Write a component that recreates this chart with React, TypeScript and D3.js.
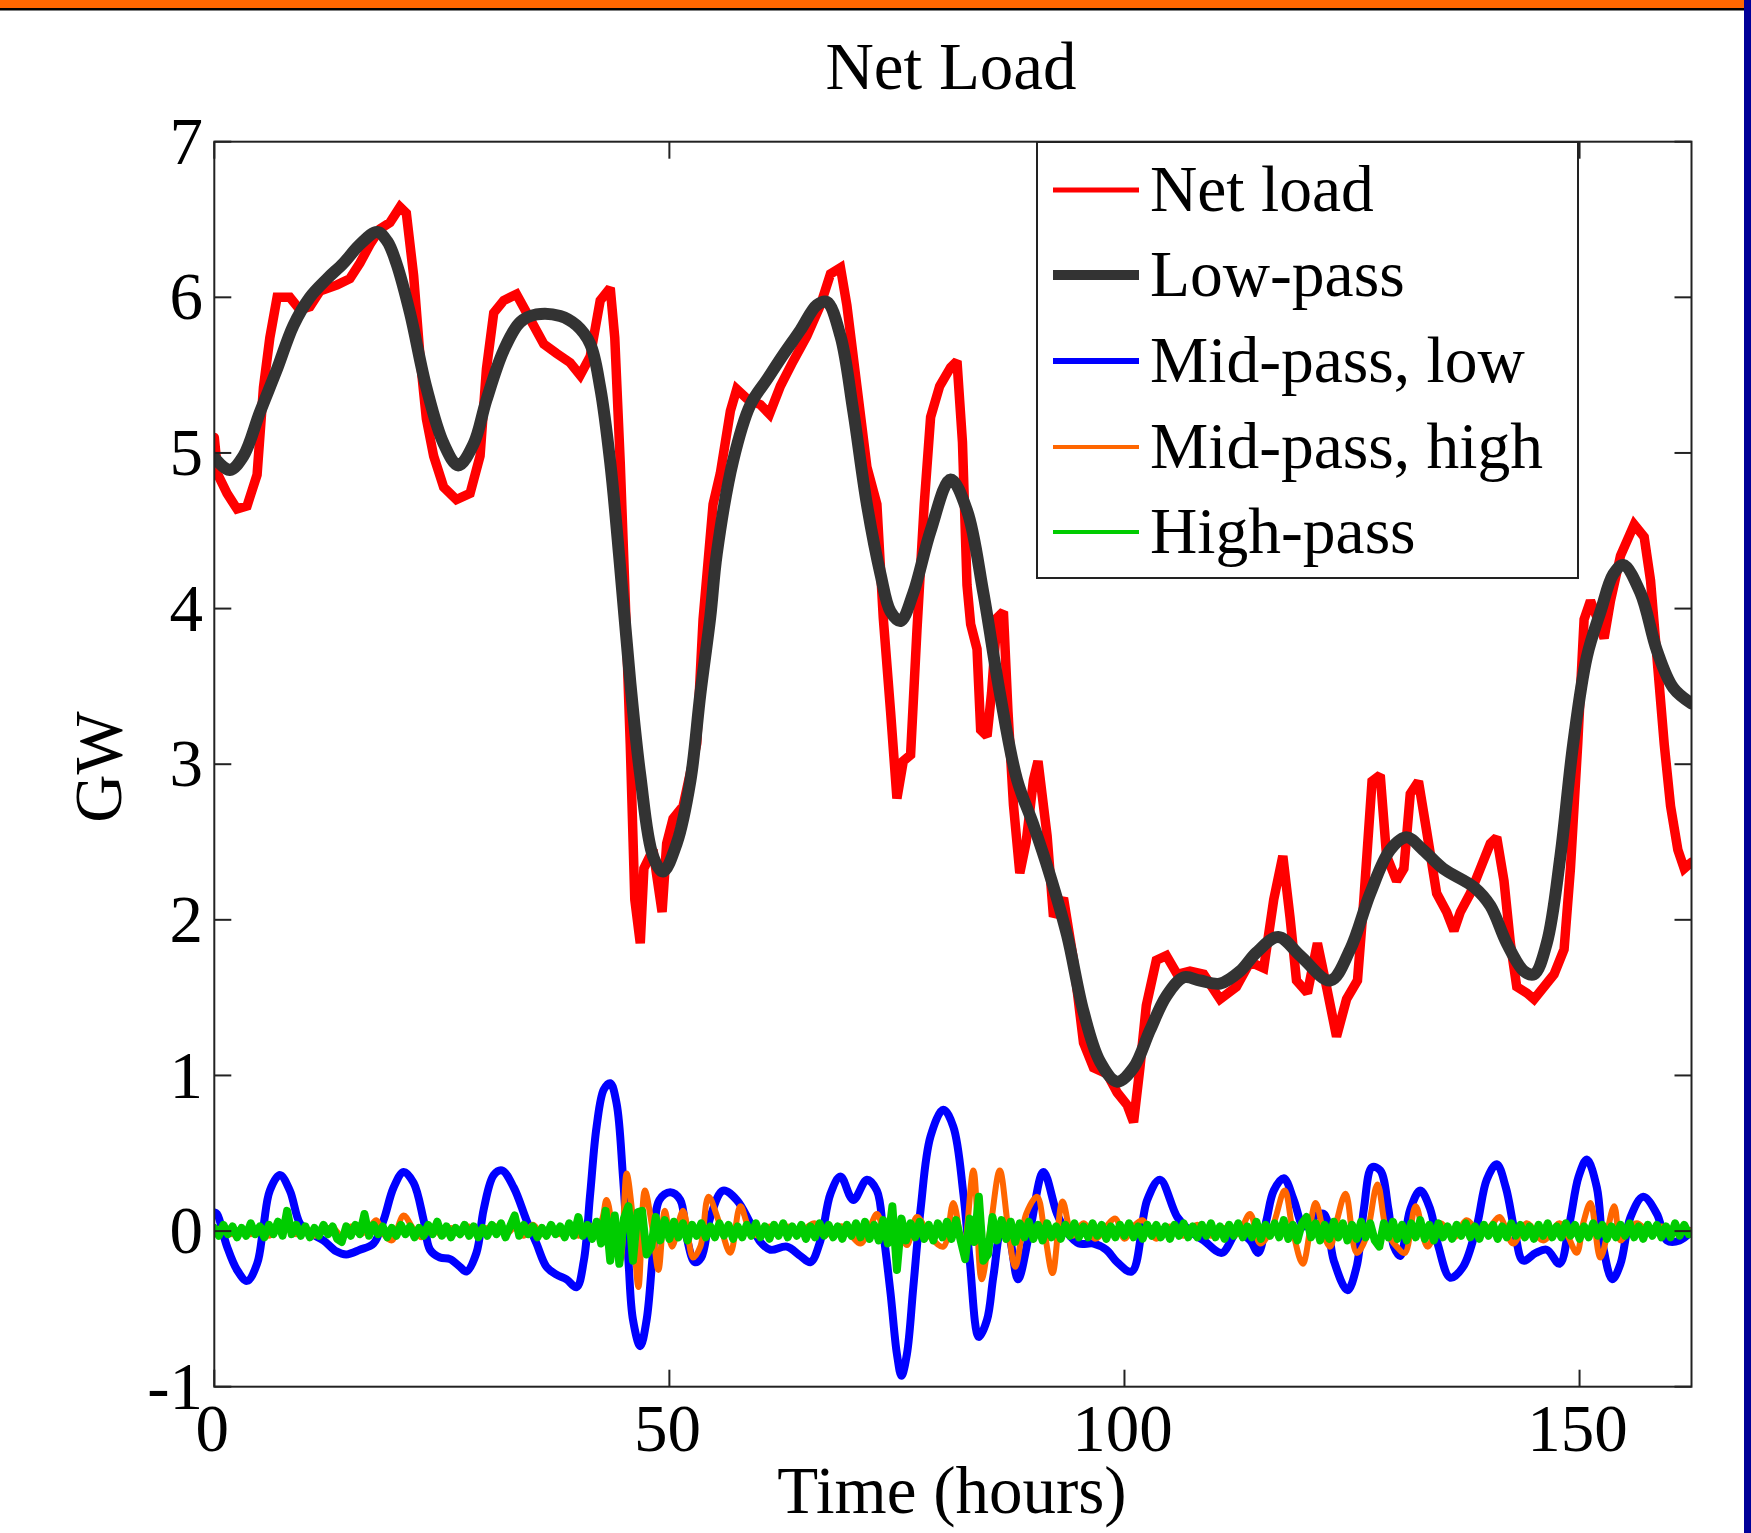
import React from "react";
import * as d3 from "d3";

const W = 1751;
const H = 1533;

const title = "Net Load";
const xLabel = "Time (hours)";
const yLabel = "GW";
const xTicks = [0, 50, 100, 150];
const yTicks = [-1, 0, 1, 2, 3, 4, 5, 6, 7];
const legendLabels = ["Net load", "Low-pass", "Mid-pass, low", "Mid-pass, high", "High-pass"];
const seriesColors = ["#ff0000", "#333333", "#0000ff", "#ff6600", "#00cc00"];

// [hour, GW]
const netLoad: [number, number][] = [
  [0, 5.1], [0.4, 4.86], [1.4, 4.74], [2.5, 4.64], [3.6, 4.66], [4.7, 4.86], [5.4, 5.42], [6.1, 5.74], [6.9, 6.0],
  [8.3, 6.0], [9.4, 5.92], [10.5, 5.94], [11.6, 6.04], [13.5, 6.08], [14.9, 6.12], [16.0, 6.22], [17.1, 6.34],
  [18.2, 6.44], [19.3, 6.48], [20.4, 6.58], [21.1, 6.54], [21.9, 6.14], [22.6, 5.62], [23.3, 5.22], [24.1, 4.98],
  [25.2, 4.78], [26.6, 4.7], [28.1, 4.74], [29.2, 4.98], [29.9, 5.54], [30.7, 5.9], [31.8, 5.98], [33.2, 6.02],
  [34.7, 5.86], [36.2, 5.7], [37.6, 5.64], [39.1, 5.58], [40.2, 5.5], [41.3, 5.62], [42.4, 5.98], [43.5, 6.06],
  [44.0, 5.74], [44.6, 4.94], [45.1, 4.14], [45.7, 3.13], [46.2, 2.13], [46.8, 1.85], [47.2, 2.33], [48.2, 2.45],
  [49.2, 2.05], [49.7, 2.49], [50.4, 2.65], [51.5, 2.73], [53.0, 3.13], [53.7, 3.93], [54.8, 4.67], [55.6, 4.87],
  [56.7, 5.27], [57.4, 5.41], [58.5, 5.35], [60.0, 5.31], [61.0, 5.25], [62.2, 5.43], [63.6, 5.59], [65.1, 5.75],
  [66.6, 5.95], [67.7, 6.15], [68.8, 6.19], [69.5, 5.95], [70.6, 5.43], [71.7, 4.91], [72.8, 4.67], [73.5, 3.94],
  [74.3, 3.34], [75.0, 2.78], [75.7, 3.02], [76.5, 3.06], [77.2, 3.86], [78.0, 4.67], [78.7, 5.23], [79.7, 5.43],
  [80.9, 5.55], [81.6, 5.59], [82.2, 5.07], [82.7, 4.15], [83.1, 3.9], [83.8, 3.74], [84.2, 3.22], [84.9, 3.18],
  [85.4, 3.46], [86.0, 3.94], [86.7, 3.98], [87.2, 3.34], [87.8, 2.74], [88.5, 2.3], [89.2, 2.5], [90.0, 2.9],
  [90.5, 3.02], [91.5, 2.54], [92.2, 2.02], [93.3, 2.14], [94.4, 1.74], [95.5, 1.21], [96.6, 1.05], [98.1, 1.01],
  [99.2, 0.89], [100.3, 0.81], [101.0, 0.7], [101.7, 1.05], [102.4, 1.45], [103.5, 1.74], [104.6, 1.77],
  [105.8, 1.65], [107.2, 1.67], [108.7, 1.65], [110.5, 1.49], [112.3, 1.57], [113.8, 1.73], [115.3, 1.69],
  [116.4, 2.13], [117.4, 2.41], [118.2, 2.01], [118.9, 1.61], [120.1, 1.53], [121.2, 1.85], [122.2, 1.57],
  [123.3, 1.25], [124.4, 1.49], [125.6, 1.61], [126.3, 2.13], [127.2, 2.89], [128.1, 2.93], [128.8, 2.41],
  [129.9, 2.25], [130.7, 2.33], [131.4, 2.81], [132.3, 2.89], [133.2, 2.57], [134.3, 2.17], [135.4, 2.05],
  [136.2, 1.93], [136.9, 2.05], [138.0, 2.17], [139.1, 2.33], [140.2, 2.49], [140.9, 2.53], [141.7, 2.25],
  [142.4, 1.85], [143.1, 1.57], [144.2, 1.53], [145.0, 1.49], [146.1, 1.57], [147.2, 1.65], [148.3, 1.81],
  [149.0, 2.33], [149.8, 3.13], [150.5, 3.93], [151.2, 4.05], [152.0, 3.93], [152.7, 3.81], [153.4, 4.05],
  [154.5, 4.34], [156.0, 4.54], [157.1, 4.46], [157.8, 4.18], [158.5, 3.69], [159.3, 3.13], [160.0, 2.73],
  [160.8, 2.45], [161.5, 2.33], [162.3, 2.37],
];

const lowPass: [number, number][] = [
  [0, 4.97], [1.7, 4.89], [3.2, 4.98], [5.0, 5.26], [6.9, 5.54], [8.7, 5.82], [10.5, 6.0], [12.4, 6.12], [14.2, 6.22],
  [16.0, 6.34], [17.9, 6.42], [19.0, 6.36], [20.0, 6.22], [21.5, 5.9], [23.3, 5.42], [25.2, 5.06], [26.8, 4.92],
  [28.5, 5.06], [29.9, 5.34], [31.8, 5.66], [33.6, 5.84], [35.4, 5.89], [38.0, 5.88], [39.8, 5.82], [41.3, 5.7],
  [42.4, 5.42], [43.5, 4.94], [44.6, 4.26], [45.7, 3.53], [46.8, 2.93], [48.2, 2.41], [49.3, 2.31], [50.8, 2.49],
  [52.3, 2.89], [53.4, 3.45], [54.5, 3.95], [55.2, 4.35], [57.0, 4.95], [58.9, 5.31], [60.7, 5.47], [62.5, 5.63],
  [64.4, 5.79], [66.2, 5.95], [67.3, 5.97], [68.8, 5.75], [70.2, 5.27], [71.7, 4.67], [73.2, 4.22], [74.3, 3.98],
  [75.4, 3.92], [76.8, 4.1], [78.7, 4.5], [80.9, 4.83], [82.7, 4.63], [84.5, 4.1], [86.3, 3.46], [88.2, 2.9],
  [90.0, 2.61], [91.8, 2.29], [93.7, 1.9], [95.5, 1.41], [97.3, 1.09], [99.2, 0.96], [101.0, 1.05], [102.8, 1.29],
  [104.6, 1.51], [106.5, 1.63], [108.3, 1.61], [110.5, 1.59], [112.7, 1.67], [114.5, 1.79], [116.9, 1.89],
  [119.3, 1.77], [122.6, 1.61], [124.8, 1.81], [127.0, 2.17], [129.2, 2.45], [131.0, 2.53], [132.8, 2.45],
  [135.0, 2.33], [138.4, 2.21], [140.2, 2.09], [142.0, 1.85], [143.9, 1.67], [145.0, 1.65], [146.4, 1.85],
  [147.9, 2.41], [149.3, 3.13], [150.8, 3.69], [152.3, 3.98], [153.7, 4.22], [154.8, 4.28], [156.7, 4.1],
  [158.5, 3.73], [160.3, 3.49], [162.3, 3.39],
];

const midLow: [number, number][] = [
  [0, 0.12], [0.3, 0.11], [1.4, -0.1], [2.5, -0.25], [3.6, -0.32], [4.7, -0.21], [5.4, 0.03], [6.1, 0.26], [7.2, 0.36],
  [8.3, 0.26], [9.4, 0.05], [10.5, -0.01], [12.0, -0.06], [13.4, -0.13], [14.5, -0.15], [16.0, -0.12], [17.5, -0.08],
  [18.6, 0.07], [19.7, 0.28], [20.8, 0.38], [21.9, 0.31], [23.0, 0.07], [23.7, -0.12], [24.8, -0.17], [25.9, -0.18],
  [27.0, -0.23], [27.7, -0.26], [28.8, -0.14], [29.6, 0.14], [30.7, 0.36], [31.6, 0.39], [32.9, 0.28], [34.3, 0.07],
  [35.4, -0.08], [36.5, -0.23], [37.6, -0.28], [38.7, -0.31], [39.8, -0.36], [40.6, -0.19], [41.3, 0.24], [42.0, 0.67],
  [42.8, 0.91], [43.5, 0.95], [44.2, 0.82], [44.9, 0.35], [45.5, -0.19], [46.0, -0.57], [46.8, -0.74], [47.5, -0.57],
  [48.2, -0.14], [48.9, 0.2], [50.1, 0.25], [51.2, 0.2], [51.9, -0.04], [52.8, -0.2], [53.5, -0.17], [54.5, 0.09],
  [55.9, 0.26], [57.4, 0.2], [58.9, 0.05], [60.0, -0.07], [61.1, -0.12], [62.9, -0.1], [64.4, -0.16], [65.5, -0.2],
  [66.6, -0.06], [67.7, 0.24], [68.8, 0.35], [70.2, 0.2], [71.7, 0.33], [72.8, 0.26], [73.5, -0.01], [74.3, -0.4],
  [75.0, -0.79], [75.5, -0.93], [76.1, -0.79], [76.8, -0.36], [77.6, 0.14], [78.7, 0.61], [80.1, 0.78], [81.2, 0.67],
  [82.3, 0.24], [83.0, -0.19], [84.0, -0.68], [84.9, -0.57], [85.6, -0.29], [86.6, 0.05], [87.4, -0.05], [88.3, -0.31],
  [89.6, 0.0], [91.1, 0.38], [92.6, 0.11], [93.7, -0.01], [95.0, -0.08], [96.6, -0.08], [98.0, -0.12], [99.2, -0.2],
  [100.8, -0.26], [102.5, 0.2], [103.9, 0.33], [105.8, 0.09], [107.2, 0.0], [108.7, -0.06], [110.7, -0.14],
  [112.4, -0.01], [113.8, -0.06], [114.7, -0.14], [115.6, 0.07], [116.4, 0.26], [117.5, 0.34], [118.6, 0.2],
  [119.7, 0.03], [120.8, 0.09], [121.9, 0.11], [123.0, -0.19], [124.5, -0.38], [125.5, -0.23], [126.3, 0.14],
  [127.2, 0.41], [128.1, 0.39], [129.0, 0.14], [129.6, -0.1], [130.3, -0.16], [131.4, 0.14], [132.5, 0.26],
  [133.6, 0.14], [134.5, -0.1], [135.8, -0.3], [137.2, -0.23], [138.7, 0.03], [139.8, 0.33], [140.9, 0.43],
  [141.9, 0.28], [142.9, -0.01], [143.8, -0.19], [145.2, -0.14], [146.4, -0.12], [147.8, -0.21], [148.9, 0.05],
  [149.9, 0.35], [150.8, 0.46], [151.9, 0.28], [152.6, -0.1], [153.6, -0.31], [154.5, -0.21], [155.6, 0.09],
  [157.0, 0.22], [158.5, 0.11], [159.6, -0.06], [161.0, -0.06], [162.3, 0.0],
];

const midHigh: [number, number][] = [
  [0, 0.0], [1, 0.02], [2, -0.02], [3, 0.01], [4, -0.02], [5, 0.03], [6, -0.03], [7, 0.02], [8, 0.04], [9, -0.02],
  [10, 0.02], [11, -0.03], [12, 0.01], [13, 0.02], [14, -0.03], [15, 0.03], [16, -0.02], [17, 0.02], [17.8, 0.07],
  [18.6, -0.02], [19.5, -0.06], [20.8, 0.1], [21.8, 0.02], [22.8, -0.04], [24, 0.03], [25, -0.03], [26, 0.02],
  [27, -0.02], [28, 0.03], [29, -0.03], [30, 0.02], [31, 0.03], [32, -0.02], [33, 0.02], [34, -0.03], [35, 0.04],
  [36, -0.02], [37, 0.02], [38, -0.02], [39, 0.03], [40, -0.03], [41, 0.02], [42.4, 0.05], [43.1, 0.2], [43.9, -0.04],
  [44.6, -0.19], [45.3, 0.37], [45.9, 0.13], [46.6, -0.36], [47.3, 0.26], [48.1, 0.03], [48.8, -0.25], [49.5, 0.13],
  [50.3, -0.1], [51.5, 0.13], [52.6, -0.17], [53.4, -0.1], [54.3, 0.22], [55.5, 0.05], [56.7, -0.14], [57.8, 0.16],
  [58.9, 0.0], [60, -0.03], [61, 0.03], [62, -0.02], [63, 0.03], [64, -0.02], [65, 0.02], [66, 0.05], [67, -0.03],
  [68, 0.01], [69, 0.03], [70, -0.03], [71, -0.08], [72, 0.02], [72.8, 0.11], [73.6, 0.0], [74.3, -0.06], [75.2, 0.02],
  [76.1, -0.09], [77.2, 0.09], [78.7, -0.04], [80.1, -0.1], [81.2, 0.18], [82.3, -0.12], [83.4, 0.39], [84.3, -0.31],
  [85.2, -0.01], [86.3, 0.39], [87.2, 0.03], [88.0, -0.23], [89.2, 0.11], [90.4, 0.22], [91.2, 0.0], [92.1, -0.27],
  [93.2, 0.19], [94.3, -0.03], [95.5, 0.05], [96.8, -0.05], [98, 0.03], [99, 0.08], [100, -0.05], [101, 0.03],
  [102, 0.07], [103.5, -0.05], [105, 0.03], [106.5, -0.03], [108, 0.04], [109.5, -0.03], [111, 0.02], [112.4, -0.02],
  [113.8, 0.11], [114.9, -0.08], [116.2, 0.02], [117.6, 0.26], [118.5, 0.0], [119.6, -0.21], [121.0, 0.18],
  [122.0, -0.04], [122.6, -0.1], [123.3, 0.06], [124.3, 0.24], [125.5, -0.14], [126.5, -0.05], [127.8, 0.3],
  [128.8, 0.0], [129.9, -0.1], [130.8, -0.14], [132.0, 0.16], [133.3, -0.1], [134.7, 0.05], [136.2, -0.04],
  [137.6, 0.07], [139.0, -0.01], [140.2, 0.03], [141.2, 0.09], [142.7, -0.08], [144.2, 0.05], [146.0, -0.06],
  [147.8, 0.05], [148.7, -0.03], [149.7, -0.14], [150.4, 0.05], [151.2, 0.18], [152.3, -0.17], [153.8, 0.16],
  [154.5, -0.06], [155.5, 0.02], [156.3, 0.05], [157.8, -0.01], [159, 0.03], [160.3, -0.02], [161.2, 0.02], [162.3, 0.0],
];

// High-pass component, one value every half hour from t = 0
const highPassStep = 0.5;
const highPass: number[] = [
  0.02, -0.03, 0.04, -0.02, 0.03, -0.04, 0.02, -0.03, 0.05, -0.02, 0.03, -0.04, 0.04, -0.02, 0.06, -0.03, 0.13, -0.02, 0.04, -0.03,
  0.03, -0.04, 0.02, -0.03, 0.04, -0.02, 0.03, -0.05, -0.07, 0.03, -0.03, 0.04, -0.02, 0.11, -0.03, 0.04, -0.02, 0.03, -0.04, 0.02,
  -0.03, 0.04, -0.02, 0.03, -0.04, 0.02, -0.03, 0.04, -0.02, 0.06, -0.03, 0.03, -0.04, 0.02, -0.02, 0.04, -0.03, 0.03, -0.04, 0.02,
  -0.03, 0.04, -0.02, 0.05, -0.04, 0.03, 0.1, -0.03, 0.04, -0.02, 0.03, -0.04, 0.02, -0.03, 0.04, -0.02, 0.03, -0.04, 0.05, -0.03,
  0.09, -0.03, 0.04, -0.05, 0.06, -0.08, 0.13, -0.19, 0.1, -0.21, 0.08, 0.16, -0.19, 0.12, 0.13, -0.15, -0.1, 0.09, -0.06, 0.07,
  -0.05, 0.06, -0.04, 0.05, -0.06, 0.04, -0.03, 0.05, -0.04, 0.03, -0.04, 0.05, -0.03, 0.04, -0.05, 0.03, -0.04, 0.04, -0.03, 0.05,
  -0.04, 0.03, -0.05, 0.04, -0.03, 0.05, -0.04, 0.03, -0.03, 0.04, -0.05, 0.03, -0.04, 0.05, -0.03, 0.04, -0.04, 0.03, -0.05, 0.04,
  -0.03, 0.05, -0.04, 0.06, -0.05, 0.04, -0.06, 0.07, -0.08, 0.16, -0.25, 0.08, -0.06, 0.05, -0.04, 0.06, -0.05, 0.04, -0.06, 0.05,
  -0.04, 0.06, -0.05, 0.07, -0.06, -0.18, 0.08, -0.07, 0.22, -0.19, -0.15, 0.09, -0.06, 0.07, -0.05, 0.06, -0.07, 0.05, -0.04, 0.06,
  -0.05, 0.04, -0.06, 0.05, -0.04, 0.03, -0.05, 0.04, -0.03, 0.05, -0.04, 0.03, -0.04, 0.05, -0.03, 0.04, -0.05, 0.03, -0.04, 0.04,
  -0.03, 0.05, -0.04, 0.03, -0.05, 0.04, -0.03, 0.04, -0.04, 0.03, -0.05, 0.04, -0.03, 0.05, -0.04, 0.03, -0.04, 0.04, -0.03, 0.05,
  -0.04, 0.03, -0.05, 0.04, -0.03, 0.05, -0.04, 0.03, -0.04, 0.06, -0.05, 0.04, -0.03, 0.05, -0.04, 0.07, -0.05, 0.04, -0.06, 0.05,
  0.09, -0.04, 0.05, -0.06, 0.04, -0.05, 0.06, -0.04, 0.05, -0.06, 0.04, -0.05, 0.06, -0.04, 0.05, -0.06, -0.1, 0.05, -0.04, 0.06,
  -0.05, 0.04, -0.06, 0.05, -0.04, 0.07, -0.05, 0.04, -0.06, 0.05, -0.04, 0.03, -0.05, 0.04, -0.03, 0.05, -0.04, 0.03, -0.05, 0.04,
  -0.03, 0.04, -0.05, 0.03, -0.04, 0.05, -0.03, 0.04, -0.04, 0.03, -0.05, 0.04, -0.03, 0.05, -0.04, 0.03, -0.04, 0.05, -0.03, 0.04,
  -0.05, 0.03, -0.04, 0.05, -0.03, 0.04, -0.05, 0.03, -0.04, 0.04, -0.03, 0.05, -0.04, 0.03, -0.05, 0.04, -0.03, 0.04, -0.04, 0.03,
  -0.04, 0.05, -0.03, 0.04, -0.02,
];

const FONT = "'Liberation Serif', 'Times New Roman', Times, serif";

export default function App() {
  const left = 214.3;
  const right = 1691.5;
  const top = 141.7;
  const bottom = 1386.7;
  const x = d3.scaleLinear().domain([0, 162.3]).range([left, right]);
  const y = d3.scaleLinear().domain([-1, 7]).range([bottom, top]);

  const line = d3
    .line<[number, number]>()
    .x((d) => x(d[0]))
    .y((d) => y(d[1]));
  const smooth = d3
    .line<[number, number]>()
    .x((d) => x(d[0]))
    .y((d) => y(d[1]))
    .curve(d3.curveCatmullRom.alpha(0.5));

  const highPassPts: [number, number][] = highPass.map((v, i) => [i * highPassStep, v]);

  const tickLen = 17;
  const fs = 67;
  const lfs = 65.5;

  const legendX0 = 1037;
  const legendY0 = 142;
  const legendW = 541;
  const legendH = 436;
  const legendRowY = [190, 275, 361, 447, 532];
  const legendWidths = [5, 10, 6, 4, 4];

  return (
    <svg
      width={W}
      height={H}
      style={{ position: "absolute", left: 0, top: 0, display: "block", background: "#fff" }}
      fontFamily={FONT}
    >
      <rect x={0} y={0} width={W} height={H} fill="#ffffff" />
      <defs>
        <clipPath id="plotClip">
          <rect x={left} y={top} width={right - left} height={bottom - top} />
        </clipPath>
      </defs>

      {/* frame decorations */}
      <rect x={0} y={0} width={1744} height={8} fill="#ff6600" />
      <rect x={0} y={8} width={1744} height={2.5} fill="#000000" />
      <rect x={1744} y={0} width={7} height={H} fill="#000099" />

      {/* title */}
      <text x={951} y={89} fontSize={fs} textAnchor="middle" fill="#000">
        {title}
      </text>

      {/* series */}
      <g clipPath="url(#plotClip)" fill="none" strokeLinejoin="round" strokeLinecap="round">
        <path d={line(netLoad) || ""} stroke={seriesColors[0]} strokeWidth={9.5} strokeLinejoin="miter" strokeMiterlimit={2} />
        <path d={smooth(lowPass) || ""} stroke={seriesColors[1]} strokeWidth={12} />
        <path d={smooth(midLow) || ""} stroke={seriesColors[2]} strokeWidth={8} />
        <path d={smooth(midHigh) || ""} stroke={seriesColors[3]} strokeWidth={6} />
        <path d={line(highPassPts) || ""} stroke={seriesColors[4]} strokeWidth={8} />
      </g>

      {/* axes box */}
      <rect x={left} y={top} width={right - left} height={bottom - top} fill="none" stroke="#222" strokeWidth={2} />

      {/* x ticks */}
      {xTicks.map((t) => (
        <g key={"xt" + t}>
          <line x1={x(t)} x2={x(t)} y1={bottom} y2={bottom - tickLen} stroke="#222" strokeWidth={2} />
          <line x1={x(t)} x2={x(t)} y1={top} y2={top + tickLen} stroke="#222" strokeWidth={2} />
          <text x={x(t) - 2} y={1451} fontSize={fs} textAnchor="middle" fill="#000">
            {t}
          </text>
        </g>
      ))}

      {/* y ticks */}
      {yTicks.map((t) => (
        <g key={"yt" + t}>
          <line x1={left} x2={left + tickLen} y1={y(t)} y2={y(t)} stroke="#222" strokeWidth={2} />
          <line x1={right} x2={right - tickLen} y1={y(t)} y2={y(t)} stroke="#222" strokeWidth={2} />
          <text x={203} y={y(t)} dy="0.33em" fontSize={fs} textAnchor="end" fill="#000">
            {t}
          </text>
        </g>
      ))}

      {/* axis labels */}
      <text x={952} y={1513} fontSize={fs} textAnchor="middle" fill="#000">
        {xLabel}
      </text>
      <text
        transform={`translate(121, 767) rotate(-90)`}
        fontSize={fs}
        textAnchor="middle"
        fill="#000"
      >
        {yLabel}
      </text>

      {/* legend */}
      <rect x={legendX0} y={legendY0} width={legendW} height={legendH} fill="#fff" stroke="#222" strokeWidth={2} />
      {legendLabels.map((lab, i) => (
        <g key={lab}>
          <line
            x1={1053}
            x2={1139}
            y1={legendRowY[i]}
            y2={legendRowY[i]}
            stroke={seriesColors[i]}
            strokeWidth={legendWidths[i]}
          />
          <text x={1150} y={legendRowY[i] + 21} fontSize={lfs} fill="#000">
            {lab}
          </text>
        </g>
      ))}
    </svg>
  );
}
